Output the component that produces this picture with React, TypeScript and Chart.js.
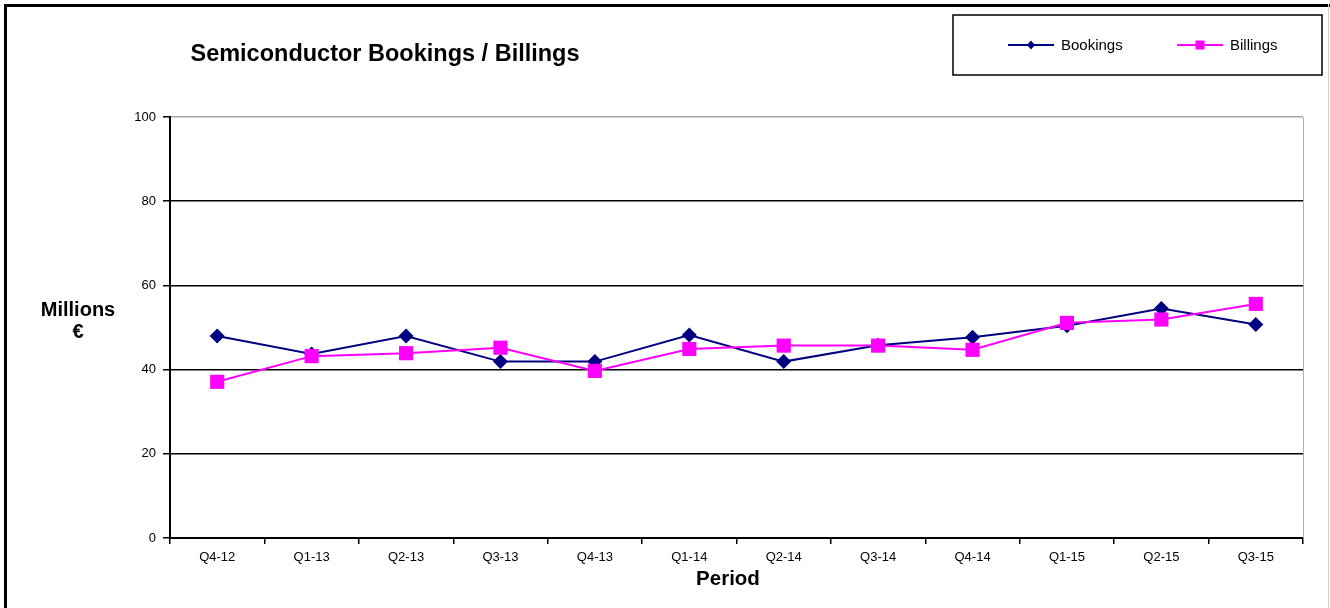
import React, { useEffect, useRef } from "react";
import { Chart, registerables } from "chart.js";

Chart.register(...registerables);

const categories = ["Q4-12", "Q1-13", "Q2-13", "Q3-13", "Q4-13", "Q1-14", "Q2-14", "Q3-14", "Q4-14", "Q1-15", "Q2-15", "Q3-15"];
const bookings = [48.0, 43.7, 48.0, 41.9, 41.9, 48.2, 41.9, 45.8, 47.7, 50.4, 54.5, 50.7];
const billings = [37.1, 43.2, 43.9, 45.2, 39.7, 44.9, 45.7, 45.7, 44.7, 51.1, 51.9, 55.6];
const titleText = "Semiconductor Bookings / Billings";
const yTitleLines = ["Millions", "€"];
const xTitleText = "Period";

const FONT = "'Liberation Sans', Arial, sans-serif";
const NAVY = "#000080";
const MAGENTA = "#FF00FF";

const decorPlugin = {
  id: "decor",
  beforeDraw(chart: any) {
    const ctx = chart.ctx;
    ctx.save();
    ctx.fillStyle = "#fff";
    ctx.fillRect(0, 0, chart.width, chart.height);
    // frame
    ctx.fillStyle = "#000";
    ctx.fillRect(4, 4, 1326, 3);
    ctx.fillRect(4, 4, 3, 604);
    ctx.fillStyle = "#d0d0d0";
    ctx.fillRect(1328, 4, 1, 604);
    ctx.restore();
  },
  afterDraw(chart: any) {
    const ctx = chart.ctx;
    const ca = chart.chartArea;
    ctx.save();
    // plot right border
    ctx.strokeStyle = "#b0b0b0";
    ctx.lineWidth = 1;
    ctx.beginPath();
    ctx.moveTo(Math.round(ca.right) + 0.5, ca.top);
    ctx.lineTo(Math.round(ca.right) + 0.5, ca.bottom);
    ctx.stroke();

    // title
    ctx.fillStyle = "#000";
    ctx.textAlign = "center";
    ctx.textBaseline = "middle";
    ctx.font = `bold 23.5px ${FONT}`;
    ctx.fillText(titleText, 385, 55);

    // y title
    ctx.font = `bold 20px ${FONT}`;
    ctx.fillText(yTitleLines[0], 78, 310);
    ctx.fillText(yTitleLines[1], 78, 332);

    // x title
    ctx.font = `bold 20.5px ${FONT}`;
    ctx.fillText(xTitleText, 728, 579);

    // legend box
    ctx.strokeStyle = "#000";
    ctx.lineWidth = 1.5;
    ctx.strokeRect(953, 15, 369, 60);
    const ds = chart.data.datasets;
    const items = [
      { x: 1008, label: ds[0].label, color: ds[0].borderColor, style: "diamond" },
      { x: 1177, label: ds[1].label, color: ds[1].borderColor, style: "square" },
    ];
    const ly = 45;
    ctx.font = `15px ${FONT}`;
    ctx.textAlign = "left";
    for (const it of items) {
      ctx.strokeStyle = it.color;
      ctx.lineWidth = 2;
      ctx.beginPath();
      ctx.moveTo(it.x, ly);
      ctx.lineTo(it.x + 46, ly);
      ctx.stroke();
      ctx.fillStyle = it.color;
      const cx = it.x + 23;
      if (it.style === "diamond") {
        ctx.beginPath();
        ctx.moveTo(cx, ly - 4.5);
        ctx.lineTo(cx + 4, ly);
        ctx.lineTo(cx, ly + 4.5);
        ctx.lineTo(cx - 4, ly);
        ctx.closePath();
        ctx.fill();
      } else {
        ctx.fillRect(cx - 4.5, ly - 4.5, 9, 9);
      }
      ctx.fillStyle = "#000";
      ctx.fillText(it.label, it.x + 53, ly + 1);
    }
    ctx.restore();
  },
};

export default function App() {
  const ref = useRef<HTMLCanvasElement | null>(null);
  useEffect(() => {
    document.body.style.margin = "0";
    const canvas = ref.current!;
    const chart = new Chart(canvas, {
      type: "line",
      data: {
        labels: categories,
        datasets: [
          {
            label: "Bookings",
            data: bookings,
            borderColor: NAVY,
            backgroundColor: NAVY,
            borderWidth: 2,
            pointStyle: "rectRot",
            pointRadius: 7.5,
            pointBorderWidth: 0,
            pointBackgroundColor: NAVY,
            tension: 0,
            order: 2,
          },
          {
            label: "Billings",
            data: billings,
            borderColor: MAGENTA,
            backgroundColor: MAGENTA,
            borderWidth: 2,
            pointStyle: "rect",
            pointRadius: 10,
            pointBorderWidth: 0,
            pointBackgroundColor: MAGENTA,
            tension: 0,
            order: 1,
          },
        ],
      },
      options: {
        responsive: false,
        animation: false,
        devicePixelRatio: 1,
        layout: { padding: { left: 0, top: 117, right: 27, bottom: 0 } },
        plugins: {
          legend: { display: false },
          title: { display: false },
          tooltip: { enabled: false },
        },
        scales: {
          x: {
            type: "category",
            offset: true,
            grid: {
              display: true,
              offset: true,
              drawOnChartArea: false,
              tickLength: 6,
              color: "#000",
              lineWidth: 1.5,
            },
            border: { display: true, color: "#000", width: 2 },
            ticks: {
              color: "#000",
              font: { family: FONT, size: 13 },
              padding: 6,
              maxRotation: 0,
              autoSkip: false,
            },
            afterFit: (s: any) => {
              s.height = 70;
            },
          },
          y: {
            min: 0,
            max: 100,
            ticks: {
              stepSize: 20,
              color: "#000",
              font: { family: FONT, size: 13 },
              padding: 7,
            },
            grid: {
              color: (c: any) => (c.tick && c.tick.value === 100 ? "#a8a8a8" : "#000"),
              tickColor: "#000",
              lineWidth: 1.5,
              tickLength: 7,
            },
            border: { display: true, color: "#000", width: 2 },
            afterFit: (s: any) => {
              s.width = 170;
            },
          },
        },
      },
      plugins: [decorPlugin],
    });
    return () => chart.destroy();
  }, []);
  return (
    <div style={{ width: 1330, height: 608, position: "relative" }}>
      <canvas ref={ref} width={1330} height={608} style={{ display: "block", width: 1330, height: 608 }} />
    </div>
  );
}
